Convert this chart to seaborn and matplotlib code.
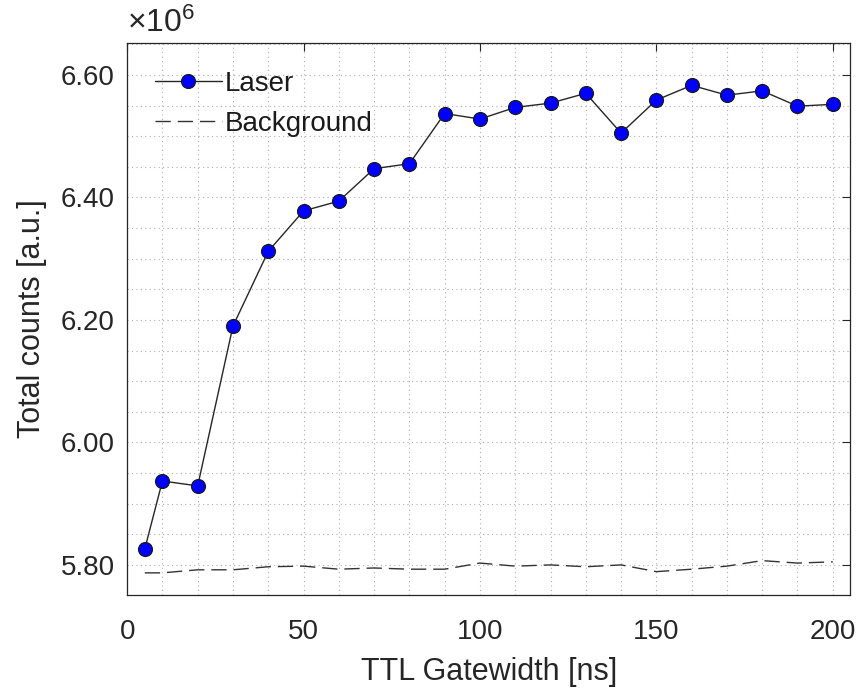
import matplotlib
matplotlib.use("Agg")
import matplotlib.pyplot as plt
import seaborn as sns
import pandas as pd
from matplotlib.ticker import FuncFormatter, MultipleLocator

gatewidth = [5, 10, 20, 30, 40, 50, 60, 70, 80, 90, 100, 110, 120, 130, 140, 150, 160, 170, 180, 190, 200]
laser = [5.826, 5.937, 5.929, 6.190, 6.312, 6.378, 6.394, 6.447, 6.455, 6.537, 6.528, 6.547,
         6.554, 6.570, 6.505, 6.559, 6.583, 6.567, 6.574, 6.549, 6.552]
background = [5.787, 5.787, 5.792, 5.792, 5.797, 5.798, 5.793, 5.795, 5.793, 5.793, 5.803, 5.798,
              5.800, 5.797, 5.800, 5.789, 5.793, 5.798, 5.807, 5.803, 5.805]
laser = [v * 1e6 for v in laser]
background = [v * 1e6 for v in background]

sns.set_theme(style="white")
plt.rcParams['font.family'] = ['Liberation Sans', 'DejaVu Sans']
plt.rcParams['mathtext.fontset'] = 'custom'
plt.rcParams['mathtext.rm'] = 'Liberation Sans'
plt.rcParams['mathtext.it'] = 'Liberation Sans'

df = pd.DataFrame({"x": gatewidth, "Laser": laser, "Background": background})

fig = plt.figure(figsize=(8.59, 6.95), dpi=100)
ax = fig.add_axes([0.148, 0.144, 0.842, 0.794])

sns.lineplot(data=df, x="x", y="Laser", ax=ax, color="#262626", lw=1.0,
             marker="o", markersize=10, markerfacecolor="#0000ff",
             markeredgecolor="#1a1a1a", markeredgewidth=0.9, label="Laser")
sns.lineplot(data=df, x="x", y="Background", ax=ax, color="#333333", lw=1.0,
             dashes=False, linestyle=(0, (11, 5)), label="Background")

ax.set_xlim(0, 205)
ax.set_ylim(5.751e6, 6.652e6)
ax.xaxis.set_major_locator(MultipleLocator(50))
ax.xaxis.set_minor_locator(MultipleLocator(10))
ax.yaxis.set_major_locator(MultipleLocator(0.2e6))
ax.yaxis.set_minor_locator(MultipleLocator(0.05e6))
ax.yaxis.set_major_formatter(FuncFormatter(lambda v, p: f"{v/1e6:.2f}"))

ax.grid(True, which="both", linestyle=(0, (1, 3)), color="#b0b0b0", lw=0.8)
ax.tick_params(which="major", direction="in", length=6, width=0.8, top=True, right=True,
               labelsize=20, colors="#262626")
ax.tick_params(axis="x", which="major", pad=17)
ax.tick_params(axis="y", which="major", pad=9)
ax.tick_params(which="minor", length=0, top=False, right=False)
for s in ax.spines.values():
    s.set_color("#262626")
    s.set_linewidth(0.9)

ax.set_xlabel("TTL Gatewidth [ns]", fontsize=22, color="#262626", labelpad=9)
ax.set_ylabel("Total counts [a.u.]", fontsize=22, color="#262626", labelpad=10)

ax.text(0.0, 1.008, r"$\times\mathregular{10}^{\mathregular{6}}$", transform=ax.transAxes, fontsize=23,
        color="#262626", ha="left", va="bottom")

leg = ax.legend(loc="upper left", frameon=False, fontsize=20, handlelength=2.4,
                handletextpad=0.1, borderaxespad=0.7, labelspacing=0.5, borderpad=0.3)
for t in leg.get_texts():
    t.set_color("#1a1a1a")

fig.savefig("out.png", dpi=100)
